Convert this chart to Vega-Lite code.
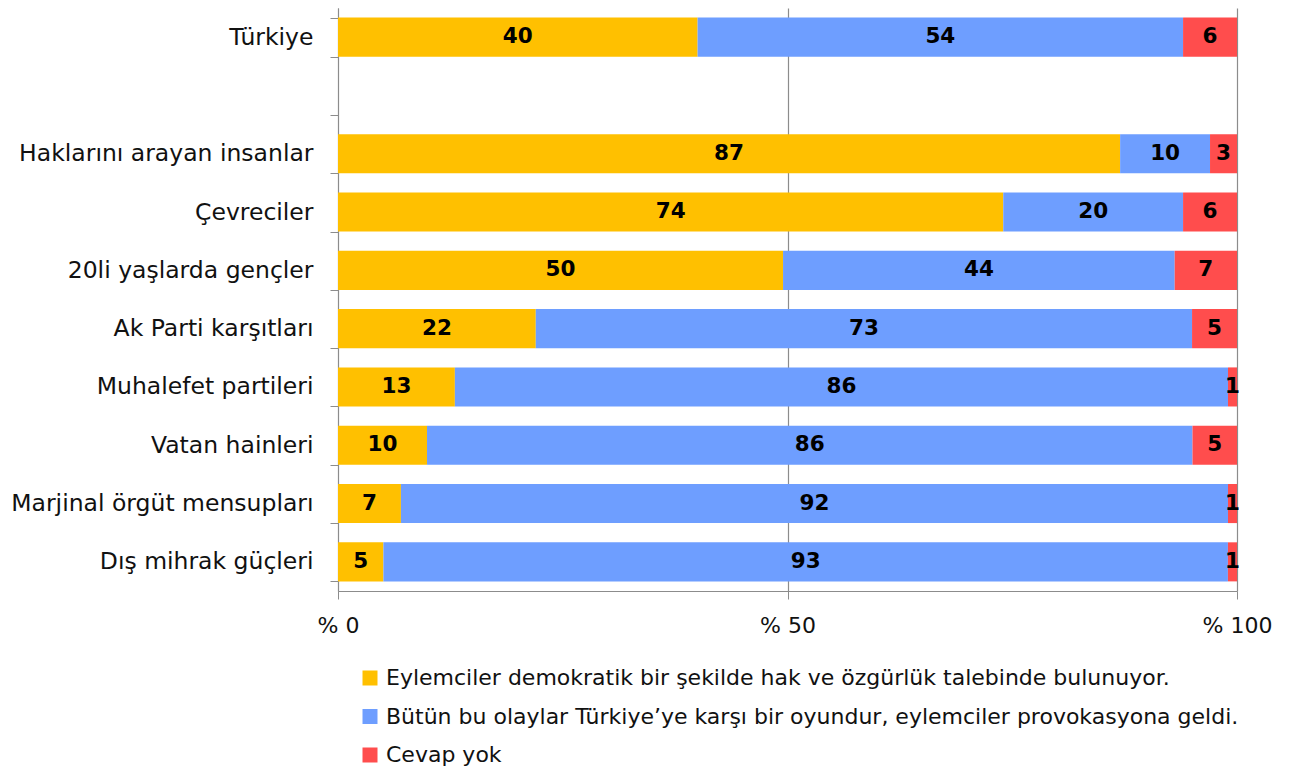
{
  "$schema": "https://vega.github.io/schema/vega-lite/v6.json",
  "width": 899,
  "height": 583,
  "autosize": "none",
  "padding": {"left": 338, "top": 8, "right": 53, "bottom": 178},
  "background": "white",
  "config": {
    "view": {"stroke": null},
    "font": "DejaVu Sans"
  },
  "data": {
    "values": [
      {"group": "Türkiye", "answer": "Eylemciler demokratik bir şekilde hak ve özgürlük talebinde bulunuyor.", "n": 1, "v": 40},
      {"group": "Türkiye", "answer": "Bütün bu olaylar Türkiye’ye karşı bir oyundur, eylemciler provokasyona geldi.", "n": 2, "v": 54},
      {"group": "Türkiye", "answer": "Cevap yok", "n": 3, "v": 6},
      {"group": "Haklarını arayan insanlar", "answer": "Eylemciler demokratik bir şekilde hak ve özgürlük talebinde bulunuyor.", "n": 1, "v": 87},
      {"group": "Haklarını arayan insanlar", "answer": "Bütün bu olaylar Türkiye’ye karşı bir oyundur, eylemciler provokasyona geldi.", "n": 2, "v": 10},
      {"group": "Haklarını arayan insanlar", "answer": "Cevap yok", "n": 3, "v": 3},
      {"group": "Çevreciler", "answer": "Eylemciler demokratik bir şekilde hak ve özgürlük talebinde bulunuyor.", "n": 1, "v": 74},
      {"group": "Çevreciler", "answer": "Bütün bu olaylar Türkiye’ye karşı bir oyundur, eylemciler provokasyona geldi.", "n": 2, "v": 20},
      {"group": "Çevreciler", "answer": "Cevap yok", "n": 3, "v": 6},
      {"group": "20li yaşlarda gençler", "answer": "Eylemciler demokratik bir şekilde hak ve özgürlük talebinde bulunuyor.", "n": 1, "v": 50},
      {"group": "20li yaşlarda gençler", "answer": "Bütün bu olaylar Türkiye’ye karşı bir oyundur, eylemciler provokasyona geldi.", "n": 2, "v": 44},
      {"group": "20li yaşlarda gençler", "answer": "Cevap yok", "n": 3, "v": 7},
      {"group": "Ak Parti karşıtları ", "answer": "Eylemciler demokratik bir şekilde hak ve özgürlük talebinde bulunuyor.", "n": 1, "v": 22},
      {"group": "Ak Parti karşıtları ", "answer": "Bütün bu olaylar Türkiye’ye karşı bir oyundur, eylemciler provokasyona geldi.", "n": 2, "v": 73},
      {"group": "Ak Parti karşıtları ", "answer": "Cevap yok", "n": 3, "v": 5},
      {"group": "Muhalefet partileri", "answer": "Eylemciler demokratik bir şekilde hak ve özgürlük talebinde bulunuyor.", "n": 1, "v": 13},
      {"group": "Muhalefet partileri", "answer": "Bütün bu olaylar Türkiye’ye karşı bir oyundur, eylemciler provokasyona geldi.", "n": 2, "v": 86},
      {"group": "Muhalefet partileri", "answer": "Cevap yok", "n": 3, "v": 1},
      {"group": "Vatan hainleri", "answer": "Eylemciler demokratik bir şekilde hak ve özgürlük talebinde bulunuyor.", "n": 1, "v": 10},
      {"group": "Vatan hainleri", "answer": "Bütün bu olaylar Türkiye’ye karşı bir oyundur, eylemciler provokasyona geldi.", "n": 2, "v": 86},
      {"group": "Vatan hainleri", "answer": "Cevap yok", "n": 3, "v": 5},
      {"group": "Marjinal örgüt mensupları", "answer": "Eylemciler demokratik bir şekilde hak ve özgürlük talebinde bulunuyor.", "n": 1, "v": 7},
      {"group": "Marjinal örgüt mensupları", "answer": "Bütün bu olaylar Türkiye’ye karşı bir oyundur, eylemciler provokasyona geldi.", "n": 2, "v": 92},
      {"group": "Marjinal örgüt mensupları", "answer": "Cevap yok", "n": 3, "v": 1},
      {"group": "Dış mihrak güçleri", "answer": "Eylemciler demokratik bir şekilde hak ve özgürlük talebinde bulunuyor.", "n": 1, "v": 5},
      {"group": "Dış mihrak güçleri", "answer": "Bütün bu olaylar Türkiye’ye karşı bir oyundur, eylemciler provokasyona geldi.", "n": 2, "v": 93},
      {"group": "Dış mihrak güçleri", "answer": "Cevap yok", "n": 3, "v": 1}
    ]
  },
  "transform": [
    {"stack": "v", "groupby": ["group"], "sort": [{"field": "n", "order": "ascending"}], "offset": "normalize", "as": ["x0", "x1"]},
    {"calculate": "(datum.x0 + datum.x1) / 2", "as": "xm"}
  ],
  "encoding": {
    "y": {
      "field": "group",
      "type": "nominal",
      "title": null,
      "scale": {
        "domain": ["Türkiye", " ", "Haklarını arayan insanlar", "Çevreciler", "20li yaşlarda gençler", "Ak Parti karşıtları ", "Muhalefet partileri", "Vatan hainleri", "Marjinal örgüt mensupları", "Dış mihrak güçleri"],
        "paddingInner": 0.33,
        "paddingOuter": 0.165
      },
      "axis": {
        "tickBand": "extent",
        "domainColor": "#8c8c8c",
        "tickColor": "#8c8c8c",
        "tickSize": 8,
        "labelFontSize": 23.5,
        "labelColor": "#111111",
        "labelPadding": 17,
        "labelLimit": 400
      }
    }
  },
  "layer": [
    {
      "mark": {"type": "bar"},
      "encoding": {
        "x": {
          "field": "x0",
          "type": "quantitative",
          "title": null,
          "scale": {"domain": [0, 1], "nice": false},
          "axis": {
            "values": [0, 0.5, 1],
            "labelExpr": "'% ' + round(datum.value * 100)",
            "labelFlush": false,
            "grid": true,
            "gridColor": "#8c8c8c",
            "gridWidth": 1.2,
            "domainColor": "#8c8c8c",
            "tickColor": "#8c8c8c",
            "tickSize": 8,
            "labelFontSize": 22,
            "labelColor": "#111111",
            "labelPadding": 16
          }
        },
        "x2": {"field": "x1"},
        "color": {
          "field": "answer",
          "type": "nominal",
          "title": null,
          "scale": {
            "domain": ["Eylemciler demokratik bir şekilde hak ve özgürlük talebinde bulunuyor.", "Bütün bu olaylar Türkiye’ye karşı bir oyundur, eylemciler provokasyona geldi.", "Cevap yok"],
            "range": ["#FFC000", "#6E9EFF", "#FF4D4D"]
          },
          "legend": {
            "orient": "none",
            "legendX": 21,
            "legendY": 659,
            "symbolType": "square",
            "symbolSize": 225,
            "symbolStrokeWidth": 0,
            "symbolOpacity": 1,
            "labelFontSize": 22,
            "labelColor": "#111111",
            "labelOffset": 5,
            "labelLimit": 1000,
            "rowPadding": 16.5
          }
        }
      }
    },
    {
      "mark": {"type": "text", "fontWeight": "bold", "fontSize": 21.5, "color": "black", "baseline": "middle", "align": "center"},
      "encoding": {
        "x": {"field": "xm", "type": "quantitative"},
        "text": {"field": "v", "type": "quantitative"}
      }
    }
  ]
}
